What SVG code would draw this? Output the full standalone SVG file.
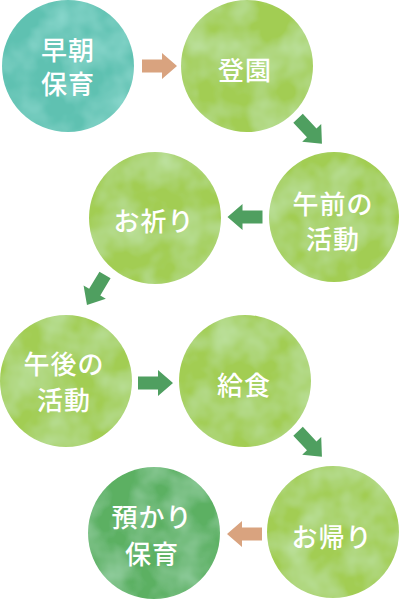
<svg xmlns="http://www.w3.org/2000/svg" width="400" height="599" viewBox="0 0 400 599">
<defs>
<style>
.lbl{font-family:"Noto Sans CJK JP","Noto Sans CJK SC",sans-serif;font-size:26px;font-weight:500;fill:#ffffff;text-anchor:middle;dominant-baseline:central;letter-spacing:1px}
.teal{fill:#5ec1b1}
.lg{fill:#a2cd52}
.dg{fill:#5bb062}
.ag{fill:#4f9f60}
.at{fill:#d9a37f}
</style>
<filter id="wcT" x="0" y="0" width="1" height="1">
<feTurbulence type="fractalNoise" baseFrequency="0.03" numOctaves="3" seed="4" result="n"/>
<feColorMatrix in="n" type="matrix" values="0 0 0 0 0.27 0 0 0 0 0.70 0 0 0 0 0.63 0 0 0 1.6 -0.55" result="s"/>
<feComposite in="s" in2="SourceGraphic" operator="atop"/>
</filter>
<filter id="wcL" x="0" y="0" width="1" height="1">
<feTurbulence type="fractalNoise" baseFrequency="0.028" numOctaves="3" seed="7" result="n"/>
<feColorMatrix in="n" type="matrix" values="0 0 0 0 0.52 0 0 0 0 0.77 0 0 0 0 0.37 0 0 0 1.5 -0.5" result="s"/>
<feComposite in="s" in2="SourceGraphic" operator="atop"/>
</filter>
<filter id="wcD" x="0" y="0" width="1" height="1">
<feTurbulence type="fractalNoise" baseFrequency="0.03" numOctaves="3" seed="9" result="n"/>
<feColorMatrix in="n" type="matrix" values="0 0 0 0 0.30 0 0 0 0 0.63 0 0 0 0 0.36 0 0 0 1.6 -0.55" result="s"/>
<feComposite in="s" in2="SourceGraphic" operator="atop"/>
</filter>
<path id="arr" d="M-17.5,-6.5 H2.5 V-13 L17.5,0 L2.5,13 V6.5 H-17.5 Z"/>
</defs>
<g id="connectors">
<use href="#arr" class="at" transform="translate(159.5,66)"/>
<use href="#arr" class="ag" transform="translate(310,131) rotate(47)"/>
<use href="#arr" class="ag" transform="translate(245,217) rotate(180)"/>
<use href="#arr" class="ag" transform="translate(96,290) rotate(121)"/>
<use href="#arr" class="ag" transform="translate(155.5,383)"/>
<use href="#arr" class="ag" transform="translate(310,444) rotate(47)"/>
<use href="#arr" class="at" transform="translate(244.5,534) rotate(180)"/>
</g>
<g id="n1"><circle class="teal" cx="68" cy="66" r="66" filter="url(#wcT)"/><text class="lbl" x="68" y="48">早朝</text><text class="lbl" x="68" y="82">保育</text></g>
<g id="n2"><circle class="lg" cx="247" cy="66" r="66" filter="url(#wcL)"/><text class="lbl" x="245" y="68">登園</text></g>
<g id="n3"><circle class="lg" cx="334" cy="217" r="65" filter="url(#wcL)"/><text class="lbl" x="333" y="202">午前の</text><text class="lbl" x="333" y="237">活動</text></g>
<g id="n4"><circle class="lg" cx="155" cy="218" r="66" filter="url(#wcL)"/><text class="lbl" x="154" y="219">お祈り</text></g>
<g id="n5"><circle class="lg" cx="66" cy="381" r="66" filter="url(#wcL)"/><text class="lbl" x="64" y="362">午後の</text><text class="lbl" x="64" y="398">活動</text></g>
<g id="n6"><circle class="lg" cx="245" cy="381" r="66" filter="url(#wcL)"/><text class="lbl" x="244" y="383">給食</text></g>
<g id="n7"><circle class="lg" cx="333" cy="532" r="66" filter="url(#wcL)"/><text class="lbl" x="332" y="535">お帰り</text></g>
<g id="n8"><circle class="dg" cx="154" cy="533" r="66" filter="url(#wcD)"/><text class="lbl" x="152" y="515">預かり</text><text class="lbl" x="152" y="552">保育</text></g>
</svg>
